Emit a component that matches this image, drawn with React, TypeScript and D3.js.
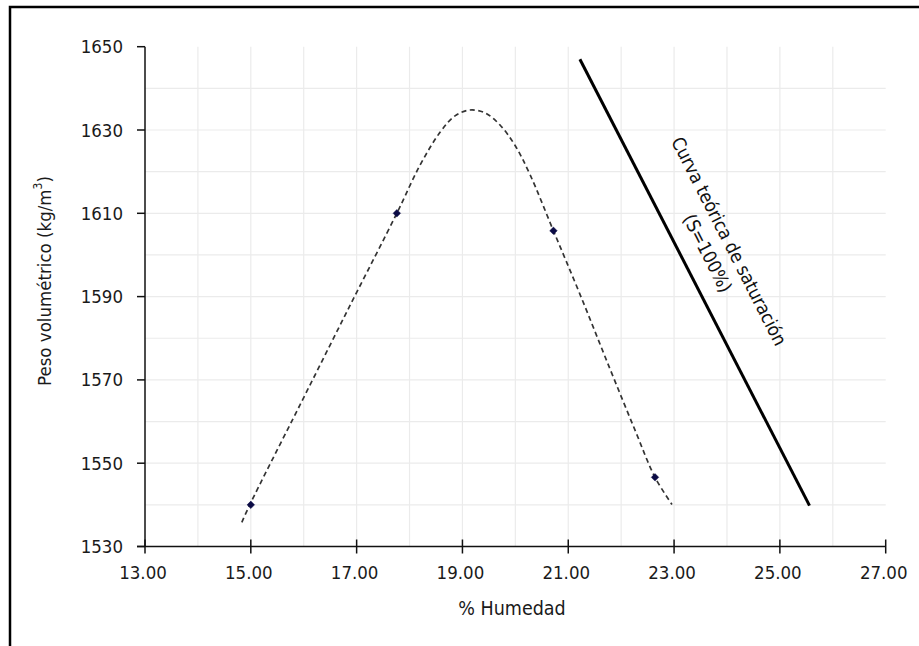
import React from "react";
import * as d3 from "d3";

const pointsX = [15.0, 17.76, 20.72, 22.64];
const pointsY = [1540.0, 1610.0, 1605.8, 1546.6];

const curveX = [14.83, 14.98, 15.93, 16.88, 17.76, 18.2, 18.58, 18.86, 19.14, 19.43, 19.71, 19.99, 20.28, 20.72, 21.22, 21.79, 22.26, 22.64, 22.96];
const curveY = [1535.8, 1540.0, 1564.0, 1588.0, 1610.0, 1621.6, 1629.5, 1633.4, 1634.8, 1634.1, 1631.2, 1626.4, 1619.2, 1605.8, 1590.6, 1572.6, 1558.0, 1546.6, 1540.1];

const satX = [21.22, 25.56];
const satY = [1647.0, 1539.8];

const xTicks = [13, 15, 17, 19, 21, 23, 25, 27];
const yTicks = [1530, 1550, 1570, 1590, 1610, 1630, 1650];
const xGrid = [14, 15, 16, 17, 18, 19, 20, 21, 22, 23, 24, 25, 26];
const yGrid = [1540, 1550, 1560, 1570, 1580, 1590, 1600, 1610, 1620, 1630, 1640];

const xTitle = "% Humedad";
const yTitle = "Peso volumétrico (kg/m";
const satLabel1 = "Curva teórica de saturación";
const satLabel2 = "(S=100%)";
const satLabelPos = [24.04, 1603.3];

const W = 919;
const H = 646;
const FONT = "'DejaVu Sans Condensed', 'DejaVu Sans', Tahoma, sans-serif";
const FS = 18.5;

export default function App() {
  const x = d3.scaleLinear().domain([13, 27]).range([145, 885.7]);
  const y = d3.scaleLinear().domain([1530, 1650]).range([546.5, 46.7]);

  const curveData = curveX.map((v, i) => [v, curveY[i]] as [number, number]);
  const line = d3
    .line<[number, number]>()
    .x((d) => x(d[0]))
    .y((d) => y(d[1]))
    .curve(d3.curveCatmullRom.alpha(0.5));
  const straight = d3
    .line<[number, number]>()
    .x((d) => x(d[0]))
    .y((d) => y(d[1]));
  const satData = satX.map((v, i) => [v, satY[i]] as [number, number]);
  const diamond = d3.symbol().type(d3.symbolDiamond2).size(36)();

  const [lx, ly] = satLabelPos;

  return (
    <svg
      width={W}
      height={H}
      style={{ position: "absolute", left: 0, top: 0, background: "#fff" }}
      fontFamily={FONT}
    >
      <rect x={0} y={0} width={W} height={H} fill="#fff" />
      {/* outer border */}
      <rect x={10} y={7} width={W + 20} height={H + 20} fill="none" stroke="#000" strokeWidth={2.5} />

      {/* grid */}
      {xGrid.map((v) => (
        <line key={"xg" + v} x1={x(v)} x2={x(v)} y1={y(1650)} y2={y(1530)} stroke="#ebebeb" strokeWidth={1.2} />
      ))}
      {yGrid.map((v) => (
        <line key={"yg" + v} x1={x(13)} x2={x(27)} y1={y(v)} y2={y(v)} stroke="#ebebeb" strokeWidth={1.2} />
      ))}

      {/* axes */}
      <line x1={x(13)} x2={x(13)} y1={y(1650)} y2={y(1530)} stroke="#111" strokeWidth={1.5} />
      <line x1={x(13) - 8} x2={x(27)} y1={y(1530)} y2={y(1530)} stroke="#111" strokeWidth={1.5} />
      {yTicks.map((v) => (
        <g key={"yt" + v}>
          <line x1={x(13) - 8} x2={x(13)} y1={y(v)} y2={y(v)} stroke="#111" strokeWidth={1.5} />
          <text x={123} y={y(v)} textAnchor="end" dominantBaseline="central" fontSize={FS} fill="#1a1a1a">
            {v}
          </text>
        </g>
      ))}
      {xTicks.map((v) => (
        <g key={"xt" + v}>
          <line x1={x(v)} x2={x(v)} y1={y(1530) - 7} y2={y(1530) + 7} stroke="#111" strokeWidth={1.5} />
          <text x={x(v) - 2} y={572} textAnchor="middle" dominantBaseline="central" fontSize={FS} fill="#1a1a1a">
            {v.toFixed(2)}
          </text>
        </g>
      ))}

      {/* titles */}
      <text x={512} y={608} textAnchor="middle" dominantBaseline="central" fontSize={19.5} fill="#1a1a1a">
        {xTitle}
      </text>
      <text
        transform={`translate(44,281) rotate(-90)`}
        textAnchor="middle"
        dominantBaseline="central"
        fontSize={FS}
        fill="#1a1a1a"
      >
        {yTitle}
        <tspan dy={-6} fontSize={FS * 0.65}>3</tspan>
        <tspan dy={6}>)</tspan>
      </text>

      {/* dashed fitted curve */}
      <path d={line(curveData) || ""} fill="none" stroke="#333" strokeWidth={1.7} strokeDasharray="5,3.5" />

      {/* saturation line */}
      <path d={straight(satData) || ""} fill="none" stroke="#000" strokeWidth={3} />

      {/* points */}
      {pointsX.map((v, i) => (
        <path key={"p" + i} d={diamond || ""} transform={`translate(${x(v)},${y(pointsY[i])})`} fill="#0b0b45" stroke="#0b0b45" strokeWidth={0.5} />
      ))}

      {/* saturation label */}
      <g transform={`translate(${x(lx)},${y(ly)}) rotate(63)`}>
        <text x={0} y={0} textAnchor="middle" dominantBaseline="central" fontSize={FS} fill="#111">
          {satLabel1}
        </text>
        <text x={1} y={24.6} textAnchor="middle" dominantBaseline="central" fontSize={FS} fill="#111">
          {satLabel2}
        </text>
      </g>
    </svg>
  );
}
